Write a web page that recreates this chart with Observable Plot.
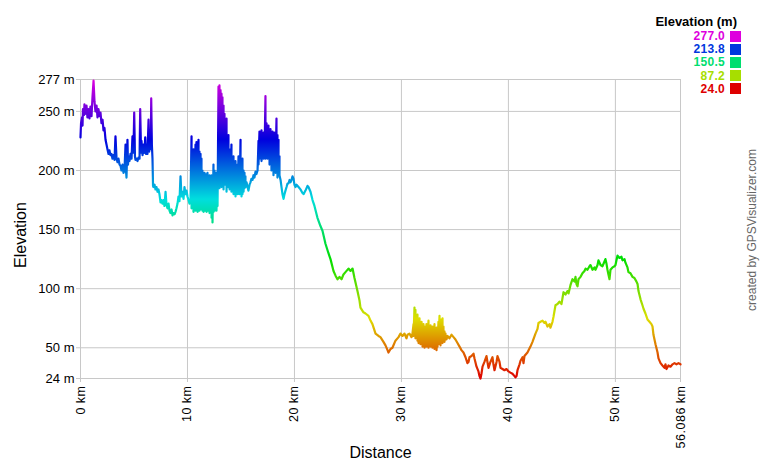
<!DOCTYPE html>
<html>
<head>
<meta charset="utf-8">
<script src="https://cdn.jsdelivr.net/npm/d3@7"></script>
<script src="https://cdn.jsdelivr.net/npm/@observablehq/plot@0.6"></script>
<style>
  html, body { margin: 0; padding: 0; background: #fff; }
  #wrap { position: relative; width: 760px; height: 460px; font-family: "Liberation Sans", Arial, sans-serif; }
  #wrap svg { position: absolute; left: 0; top: 0; }
  .lg-title { position: absolute; right: 23px; top: 14px; font-size: 13px; font-weight: bold; line-height: 16px; color: #000; white-space: nowrap; }
  .lg-val { position: absolute; right: 35px; font-size: 12px; letter-spacing: 0.3px; font-weight: bold; line-height: 12px; white-space: nowrap; }
  .lg-sw { position: absolute; left: 730px; width: 11px; height: 11px; }
</style>
</head>
<body>
<div id="wrap"></div>
<script>
// ---- Data (distance in km, elevation in m) ----
const climbKm = [0.00,0.05,0.14,0.19,0.23,0.33,0.37,0.47,0.56,0.65,0.75,0.84,0.93,1.03,1.12,1.22,1.31,1.40,1.50,1.59,1.68,1.78,1.87,1.96,2.06,2.15,2.24,2.34,2.43,2.52,2.62,2.71,2.80,2.90,2.99,3.08,3.18,3.27,3.37,3.46,3.55,3.65,3.74,3.83,3.93,4.02,4.11,4.21,4.25,4.30,4.39,4.44,4.49,4.58,4.67,4.77,4.86,4.95,5.02,5.09,5.14,5.23,5.33,5.42,5.52,5.58,5.66,5.70,5.80,5.89,5.98,6.05,6.12,6.17,6.26,6.36,6.42,6.50,6.57,6.61,6.67,6.73,6.78,6.82,6.92,7.01,7.10,7.20,7.29,7.38,7.48,7.57,7.66,7.76,7.85,7.95,8.04,8.13,8.23,8.32,8.41,8.51,8.60,8.69,8.79,8.88,8.97,9.07,9.16,9.25,9.35,9.44,9.53,9.63,9.72,9.82,9.91,10.00,10.10,10.19,10.28];
const climbM = [228,240,245,238,252,247,256,248,255,245,252,244,254,246,262,276,258,250,255,245,252,246,249,240,243,234,236,226,222,218,214,217,213,214,210,213,209,229,210,207,210,205,204,200,205,198,200,222,200,194,226,205,212,208,214,210,229,215,249,212,209,210,208,211,210,252,215,225,213,222,215,228,214,222,214,243,216,232,218,261,222,210,187,186,188,184,186,182,184,180,173,175,172,175,170,182,171,168,172,166,164,167,162,164,163,165,168,172,178,174,195,178,182,176,186,180,183,178,175,172,174];

const dense1Km = [10.38,10.47,10.56,10.66,10.75,10.84,10.94,11.03,11.12,11.22,11.31,11.40,11.50,11.59,11.68,11.78,11.87,11.96,12.06,12.15,12.25,12.34,12.43,12.53,12.62,12.71,12.81,12.90,12.99,13.09,13.18,13.27,13.37,13.46,13.55,13.65,13.74,13.83,13.93,14.02,14.11,14.21,14.30,14.40,14.49,14.58,14.68,14.77,14.86,14.96,15.05,15.14,15.24,15.33,15.42];
const dense1Top = [229,216,218,215,222,224,220,226,216,214,210,200,196,198,197,196,198,194,196,192,196,190,205,200,195,198,200,271,272,268,265,262,255,248,238,244,225,230,218,210,222,205,212,200,208,196,205,212,197,226,205,210,200,198,195];
const dense1Bot = [168,170,165,172,166,168,165,170,166,167,170,166,165,168,166,165,167,166,164,166,160,156,165,166,168,166,170,190,185,190,186,190,184,190,188,182,190,186,184,186,182,184,180,182,178,182,180,184,180,182,178,180,182,185,186];

const midKm = [15.52,15.61,15.70,15.80,15.89,15.98,16.08,16.17,16.26,16.36,16.45,16.55];
const midM = [190,186,183,188,190,193,192,196,194,199,197,200];

const dense2Km = [16.64,16.73,16.83,16.92,17.01,17.11,17.20,17.29,17.39,17.48,17.57,17.67,17.76,17.85,17.95,18.04,18.13,18.23,18.32,18.41,18.51,18.60];
const dense2Top = [225,233,228,234,226,232,229,263,240,232,238,228,235,226,233,228,232,222,244,230,226,212];
const dense2Bot = [205,210,212,208,214,210,212,210,214,210,212,205,210,200,206,196,202,198,205,194,200,196];

const descentKm = [18.70,18.79,18.88,18.98,19.07,19.16,19.26,19.35,19.44,19.54,19.63,19.72,19.82,19.91,20.00,20.10,20.19,20.38,20.56,20.75,20.85,21.03,21.22,21.31,21.50,21.69,21.87,22.15,22.43,22.62,22.90,23.18,23.37,23.65,23.84,24.02,24.21,24.40,24.58,24.77,25.05,25.24,25.43,25.61,25.89,26.08,26.17,26.45,26.64,26.92,27.11,27.29,27.58,27.86,28.04,28.32,28.51,28.70,28.79,28.98,29.16,29.44,29.73,29.91,30.10,30.29,30.47,30.57,30.75,30.94,31.03];
const descentM = [192,186,180,176,180,183,186,189,189,192,190,192,195,193,188,186,188,186,184,181,180,183,187,186,182,175,170,160,153,149,138,130,125,115,111,108,110,108,112,114,117,115,117,109,98,90,84,80,79,77,73,70,62,60,59,55,52,48,46,49,50,56,59,62,60,62,58,61,62,59,62];

const dense3Km = [31.13,31.22,31.31,31.41,31.50,31.60,31.69,31.78,31.88,31.97,32.06,32.16,32.25,32.34,32.44,32.53,32.62,32.72,32.81,32.90,33.00,33.09,33.18,33.28,33.37,33.46,33.56,33.65,33.74,33.84,33.93,34.02,34.12,34.21];
const dense3Top = [70,84,82,76,78,72,75,70,72,66,70,68,66,70,68,73,66,69,65,68,66,70,64,67,65,72,77,74,70,75,68,64,62,60];
const dense3Bot = [60,62,58,60,56,54,56,53,55,51,52,50,52,51,53,50,52,51,53,50,52,49,52,48,51,53,55,52,56,54,57,55,57,57];

const finalKm = [34.31,34.49,34.68,34.87,35.05,35.24,35.43,35.61,35.80,35.99,36.17,36.27,36.36,36.55,36.74,36.83,37.02,37.20,37.30,37.39,37.48,37.58,37.76,37.95,38.04,38.14,38.32,38.51,38.60,38.70,38.89,38.98,39.17,39.26,39.45,39.63,39.82,40.01,40.19,40.38,40.57,40.66,40.76,40.85,41.04,41.13,41.32,41.41,41.50,41.78,42.06,42.25,42.53,42.72,42.81,43.00,43.19,43.37,43.47,43.65,43.84,43.93,44.12,44.21,44.40,44.59,44.77,44.96,45.15,45.34,45.52,45.62,45.80,45.99,46.18,46.27,46.36,46.46,46.55,46.74,46.92,47.11,47.21,47.39,47.58,47.67,47.86,48.05,48.14,48.33,48.42,48.61,48.79,48.98,49.07,49.17,49.26,49.35,49.45,49.54,49.73,49.92,50.01,50.10,50.20,50.38,50.57,50.66,50.85,50.94,51.13,51.22,51.41,51.60,51.78,51.97,52.07,52.16,52.35,52.53,52.63,52.81,53.00,53.19,53.37,53.47,53.56,53.75,53.94,54.03,54.22,54.40,54.59,54.68,54.78,54.96,55.15,55.34,55.52,55.71,55.90,56.086];
const finalM = [60,58,61,59,57,54,51,48,46,42,37,38,42,43,45,41,34,30,26,24,28,34,38,43,38,33,38,42,36,31,38,43,38,33,32,31,32,30,29,28,26,25,26,31,36,39,42,37,43,46,51,55,62,66,71,72,73,71,72,68,70,67,72,76,86,87,89,87,97,95,98,96,103,108,106,110,104,102,108,110,113,115,117,116,119,120,116,118,116,120,124,120,119,123,125,121,116,112,108,116,118,119,120,124,128,126,127,124,125,122,118,114,113,110,109,106,104,98,91,86,83,79,74,72,70,68,61,53,46,41,37,35,33,36,32,35,34,36,37,36,37,36];

const legendValues = [277.0, 213.8, 150.5, 87.2, 24.0];
const xTickValues = [0, 10, 20, 30, 40, 50, 56.086];
const yTickValues = [24, 50, 100, 150, 200, 250, 277];
const xGridValues = [10, 20, 30, 40, 50];
const yGridValues = [50, 100, 150, 200, 250];
const elevMin = 24, elevMax = 277, distMax = 56.086;

// ---- Assemble track in order ----
const rows = [];
function addLine(km, m) { km.forEach((d, i) => rows.push({km: d, m: m[i]})); }
function addBand(km, top, bot) { km.forEach((d, i) => { rows.push({km: d, m: top[i]}); rows.push({km: d, m: bot[i]}); }); }
addLine(climbKm, climbM);
addBand(dense1Km, dense1Top, dense1Bot);
addLine(midKm, midM);
addBand(dense2Km, dense2Top, dense2Bot);
addLine(descentKm, descentM);
addBand(dense3Km, dense3Top, dense3Bot);
addLine(finalKm, finalM);

// hue ramp red -> magenta
const elevColor = v => d3.hsl(300 * (v - elevMin) / (elevMax - elevMin), 1, 0.435).formatHex();

const grid = "#c8c8c8";
const plot = Plot.plot({
  width: 760, height: 460,
  marginLeft: 80, marginRight: 80, marginTop: 79, marginBottom: 82,
  style: {fontFamily: "'Liberation Sans', Arial, sans-serif", background: "transparent", color: "#000"},
  x: {domain: [0, distMax]},
  y: {domain: [elevMin, elevMax]},
  marks: [
    Plot.ruleY(yGridValues, {stroke: grid}),
    Plot.ruleX(xGridValues, {stroke: grid}),
    Plot.frame({stroke: grid}),
    Plot.axisY(yTickValues, {anchor: "left", tickFormat: d => `${d} m`, tickSize: 4, tickPadding: 2, stroke: grid, fill: "#000", fontSize: 13, label: null}),
    Plot.axisX(xTickValues, {anchor: "bottom", tickFormat: d => `${d} km`, tickRotate: -90, tickSize: 4, tickPadding: 3, stroke: grid, fill: "#000", fontSize: 12.5, label: null}),
    Plot.line(rows, {x: "km", y: "m", stroke: "url(#elevGrad)", strokeWidth: 2.2, strokeLinejoin: "round"}),
    Plot.text(["Elevation"], {frameAnchor: "left", textAnchor: "middle", rotate: -90, dx: -60, dy: 6, fontSize: 16, fill: "#000"}),
    Plot.text(["Distance"], {frameAnchor: "bottom", textAnchor: "middle", dy: 79, fontSize: 16, fill: "#000"}),
    Plot.text(["created by GPSVisualizer.com"], {frameAnchor: "right", textAnchor: "middle", rotate: -90, dx: 72, dy: 1, fontSize: 12, fill: "#666"})
  ]
});

// vertical gradient in user space so each pixel gets its elevation colour
const yScale = plot.scale("y");
const svg = d3.select(plot);
const defs = svg.insert("defs", ":first-child");
const grad = defs.append("linearGradient")
  .attr("id", "elevGrad")
  .attr("gradientUnits", "userSpaceOnUse")
  .attr("x1", 0).attr("x2", 0)
  .attr("y1", yScale.apply(elevMin)).attr("y2", yScale.apply(elevMax));
d3.range(0, 31).forEach(i => {
  const v = elevMin + (elevMax - elevMin) * i / 30;
  grad.append("stop").attr("offset", i / 30).attr("stop-color", elevColor(v));
});
svg.selectAll('g[aria-label="x-axis tick label"] text').style("letter-spacing", "0.5px");

const wrap = document.getElementById("wrap");
wrap.appendChild(plot);

// legend (top right)
const t = document.createElement("div");
t.className = "lg-title"; t.textContent = "Elevation (m)";
wrap.appendChild(t);
legendValues.forEach((v, i) => {
  const cy = 36 + i * 13.2;
  const lab = document.createElement("div");
  lab.className = "lg-val";
  lab.style.top = (cy - 6) + "px";
  lab.style.color = elevColor(v);
  lab.textContent = v.toFixed(1);
  wrap.appendChild(lab);
  const sw = document.createElement("div");
  sw.className = "lg-sw";
  sw.style.top = (cy - 5.5) + "px";
  sw.style.background = elevColor(v);
  wrap.appendChild(sw);
});
</script>
</body>
</html>
